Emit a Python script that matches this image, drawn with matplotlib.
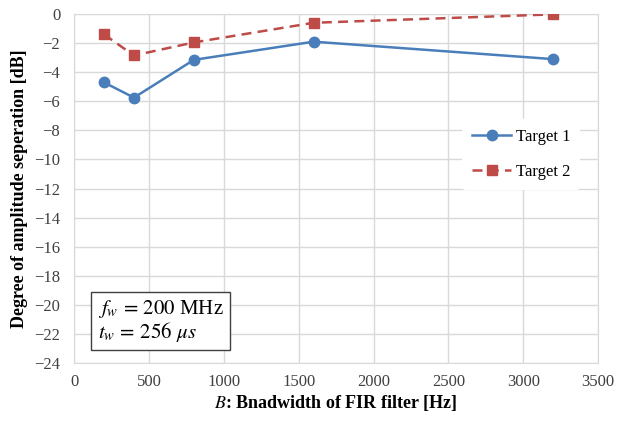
import matplotlib
matplotlib.use("Agg")
import matplotlib.pyplot as plt

bandwidth = [200, 400, 800, 1600, 3200]
target1 = [-4.7, -5.75, -3.15, -1.9, -3.1]
target2 = [-1.4, -2.85, -1.95, -0.6, -0.02]
series_names = ["Target 1", "Target 2"]

plt.rcParams['font.family'] = ['Liberation Serif', 'DejaVu Serif']
plt.rcParams['mathtext.fontset'] = 'stix'

fig = plt.figure(figsize=(6.33, 4.26), dpi=100)
ax = fig.add_axes([0.117, 0.148, 0.828, 0.819])

blue = '#4A7EBB'
red = '#BE4B48'
ax.plot(bandwidth, target1, color=blue, lw=1.8, marker='o', ms=7.5, label=series_names[0], zorder=3)
ax.plot(bandwidth, target2, color=red, lw=1.8, ls=(0, (4, 2.5)), marker='s', ms=7.5,
        label=series_names[1], zorder=3)

ax.set_xlim(0, 3500)
ax.set_ylim(-24, 0)
ax.set_xticks(range(0, 3501, 500))
ax.set_yticks(range(-24, 1, 2))
ax.grid(True, color='#D9D9D9', lw=1)
ax.set_axisbelow(True)
for s in ax.spines.values():
    s.set_color('#D9D9D9')
ax.tick_params(length=0, labelsize=12, pad=8, colors='#404040')
ax.tick_params(axis='y', pad=10)

ax.set_ylabel('Degree of amplitude seperation [dB]', fontsize=13, fontweight='bold', labelpad=4)
ax.set_xlabel(r'$B$: Bnadwidth of FIR filter [Hz]', fontsize=13, fontweight='bold', labelpad=2)

leg = ax.legend(loc='center left', bbox_to_anchor=(0.725, 0.597), frameon=True, fontsize=12,
                handlelength=2.3, handletextpad=0.3, labelspacing=1.15, borderpad=0.6)
leg.get_frame().set_edgecolor('none')
leg.get_frame().set_facecolor('white')
leg.get_frame().set_alpha(1)

ax.text(0.045, 0.055, '$f_w\\,=\\,200$ MHz\n$t_w\\,=\\,256\\ \\mu s$', transform=ax.transAxes,
        fontsize=15, va='bottom', ha='left', linespacing=1.0,
        bbox=dict(boxstyle='square,pad=0.3', facecolor='white', edgecolor='#404040', lw=1))

fig.savefig('out.png', dpi=100)
